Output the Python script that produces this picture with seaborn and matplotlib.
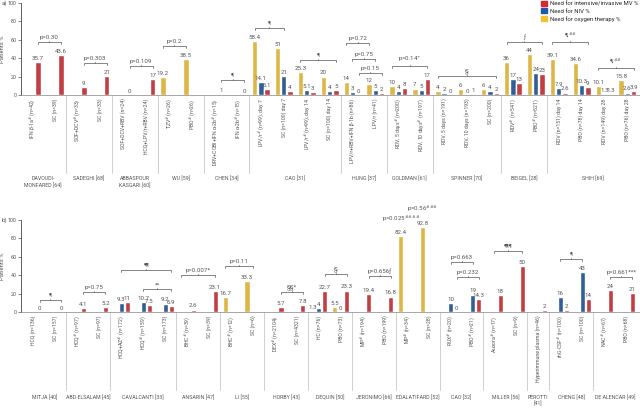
import numpy as np
import pandas as pd
import seaborn as sns
import matplotlib.pyplot as plt
from matplotlib.patches import Patch
from matplotlib.transforms import blended_transform_factory

# order of bars inside every arm (left to right)
measures = ['Oxygen', 'NIV', 'MV']
colors = {'MV': '#d7282f', 'NIV': '#1f5ca8', 'Oxygen': '#f6c22c'}
legend_names = {'MV': 'Need for intensive/invasive MV %',
                'NIV': 'Need for NIV %',
                'Oxygen': 'Need for oxygen therapy %'}

H = r'$^{\#}$'

# ---------------- panel a
a_studies = ['Davoudi-\nMonfared [64]', 'Sadeghi [68]', 'Abbaspour\nKasgari [60]', 'Wu [59]',
             'Chen [34]', 'Cao [31]', 'Hung [37]', 'Goldman [61]', 'Spinner [70]',
             'Beigel [28]', 'Shih [69]']
a_study_arms = [2, 2, 2, 2, 2, 4, 2, 2, 3, 2, 4]
a_arms = ['IFN β-1a' + H + ' (n=42)', 'SC (n=39)',
          'SOF+DCV' + H + ' (n=33)', 'SC (n=33)',
          'SOF+DCV+RBV (n=24)', 'HCQ+LPV/r+RBV (n=24)',
          'TZV' + H + ' (n=26)', 'PBO' + H + ' (n=26)',
          'DRV+COBI+IFN α-2b' + H + ' (n=15)', 'IFN α-2b' + H + ' (n=15)',
          'LPV/r' + H + ' (n=99), day 7', 'SC (n=100) day 7',
          'LPV/r' + H + ' (n=99), day 14', 'SC (n=100) day 14',
          'LPV/r+RBV+IFN β-1b (n=86)', 'LPV/r (n=41)',
          'RDV, 5 days' + H + ' (n=200)', 'RDV, 10 days' + H + ' (n=197)',
          'RDV, 5 days (n=191)', 'RDV, 10 days (n=193)', 'SC (n=200)',
          'RDV' + H + ' (n=541)', 'PBO' + H + ' (n=521)',
          'RDV (n=151) day 14', 'PBO (n=78) day 14',
          'RDV (n=149) day 28', 'PBO (n=76) day 28']
a_oxygen = [None, None, None, None, None, None, 19.2, 38.5, None, None,
            58.4, 51, 25.3, 20, 14, 12, 10, 7, 4, 6, 6, 36, 44, 39.1, 34.6, 10.1, 15.8]
a_niv = [None, None, None, None, None, None, None, None, None, None,
         14.1, 21, 5.1, 4, 3, 5, 4, 5, 2, 0, 4, 17, 24, 7.9, 10.3, 1.3, 2.6]
a_mv = [35.7, 43.6, 9, 21, 0, 17, None, None, 1, 0,
        6.1, 4, 3, 5, 0, 2, 8, 17, 0, 1, 2, 13, 23, 2.6, 9, 1.3, 3.9]

# brackets: (arm, bar, arm, bar, height, text); bar None = arm centre
a_brackets = [(0, 'MV', 1, 'MV', 57, 'p=0.30'),
              (2, 'MV', 3, 'MV', 35, 'p=0.303'),
              (4, 'MV', 5, 'MV', 31.5, 'p=0.109'),
              (6, 'Oxygen', 7, 'Oxygen', 53.5, 'p=0.2'),
              (8, 'MV', 9, 'MV', 16, '¶'),
              (10, 'Oxygen', 11, None, 73, '¶'),
              (12, 'Oxygen', 13, 'MV', 38, '¶'),
              (14, 'Oxygen', 15, 'Oxygen', 56, 'p=0.72'),
              (14, 'NIV', 15, 'NIV', 38.7, 'p=0.75'),
              (14, 'MV', 15, 'MV', 24, 'p=0.15'),
              (16, 'Oxygen', 17, 'MV', 31.7, 'p=0.14$^{+}$'),
              (18, 'Oxygen', 20, 'MV', 20.6, '§'),
              (21, 'Oxygen', 22, 'MV', 57, 'ƒ'),
              (23, 'Oxygen', 24, 'MV', 57, '¶,$^{\\#\\#}$'),
              (25, 'Oxygen', 26, 'MV', 29, '¶,$^{\\#\\#}$')]

# ---------------- panel b
b_studies = ['Mitja [40]', 'Abd-Elsalam [45]', 'Cavalcanti [33]', 'Ansarin [47]', 'Li [55]',
             'Horby [43]', 'Dequin [50]', 'Jeronimo [66]', 'Edalatifard [52]', 'Cao [32]',
             'Miller [56]', 'Perotti\n[41]', 'Cheng [48]', 'de Alencar [49]']
b_study_arms = [2, 2, 3, 2, 2, 2, 2, 2, 2, 2, 2, 1, 2, 2]
b_arms = ['HCQ (n=136)', 'SC (n=157)',
          'HCQ' + H + ' (n=97)', 'SC (n=97)',
          'HCQ+AZ' + H + ' (n=172)', 'HCQ' + H + ' (n=159)', 'SC (n=173)',
          'BHC' + H + ' (n=39)', 'SC (n=39)',
          'BHC' + H + ' (n=12)', 'SC (n=6)',
          'DEX' + H + ' (n=2104)', 'SC (n=4321)',
          'HC (n=76)', 'PBO (n=73)',
          'MP' + H + ' (n=194)', 'PBO (n=199)',
          'MP' + H + ' (n=34)', 'SC (n=28)',
          'RUX' + H + ' (n=20)', 'PBO' + H + ' (n=21)',
          'Auxora' + H + ' (n=17)', 'SC (n=9)',
          'Hyperimmune plasma (n=46)',
          'rhG-CSF' + H + ' (n=100)', 'SC (n=100)',
          'NAC' + H + ' (n=67)', 'PBO (n=68)']
b_oxygen = [None, None, None, None, None, None, None, None, None, 16.7, 33.3, None, None,
            1.3, 5.5, None, None, 82.4, 92.8, None, None, None, None, None, None, None,
            None, None]
b_niv = [None, None, None, None, 9.3, 10.7, 9.2, None, None, None, None, None, None,
         4, 0, None, None, None, None, 10, 19, None, None, None, 16, 43, None, None]
b_mv = [0, 0, 4.1, 5.2, 11, 7.5, 6.9, 2.6, 23.1, None, None, 5.7, 7.8,
        22.7, 23.3, 19.4, 16.8, None, None, 0, 14.3, 18, 50, 2, 2, 14, 24, 21]

b_brackets = [(0, 'MV', 1, 'MV', 13, '¶'),
              (2, 'MV', 3, 'MV', 21.4, 'p=0.75'),
              (4, 'NIV', 6, 'MV', 45.6, '¶¶'),
              (5, 'NIV', 6, 'MV', 24.6, '**'),
              (7, 'Oxygen', 8, 'MV', 40, 'p=0.007*'),
              (9, 'Oxygen', 10, None, 50, 'p=0.11'),
              (11, 'MV', 12, 'MV', 21.4, '§§*'),
              (13, 'MV', 14, 'MV', 41, '§'),
              (15, 'MV', 16, 'MV', 39, 'p=0.656ƒ'),
              (19, 'NIV', 20, 'NIV', 54, 'p=0.663'),
              (19, 'MV', 20, 'MV', 38.4, 'p=0.232'),
              (21, None, 22, 'MV', 66, '¶¶¶'),
              (24, 'NIV', 25, 'NIV', 58, '¶'),
              (26, 'MV', 27, 'MV', 38.4, 'p=0.661***')]
b_notes = [(17, 'Oxygen', 96, 'p=0.025$^{\\#\\#\\#\\#}$'),
           (18, 'Oxygen', 107, 'p=0.56$^{\\#\\#\\#}$')]

BAR_W = 0.82
TXT = '#555555'


def long_table(oxygen, niv, mv):
    rows = []
    for i, vals in enumerate(zip(oxygen, niv, mv)):
        for m, v in zip(measures, vals):
            if v is not None:
                rows.append({'arm': i, 'measure': m, 'value': v})
    return pd.DataFrame(rows)


def slot(arm, bar):
    if bar is None:
        return arm
    return arm + (measures.index(bar) - 1) * BAR_W / 3


def bracket(ax, x1, x2, y, text):
    ax.plot([x1, x1, x2, x2], [y - 2.2, y, y, y - 2.2], color=TXT, lw=0.5, clip_on=False)
    xm = (x1 + x2) / 2
    ax.plot([xm, xm], [y, y + 1.2], color=TXT, lw=0.5, clip_on=False)
    ax.text(xm, y + 2.2, text, ha='center', va='bottom', fontsize=4.4, color=TXT)


def panel(ax, arms, oxygen, niv, mv, studies, study_arms, brackets, xlim, sep_bottom, name_y):
    df = long_table(oxygen, niv, mv)
    sns.barplot(data=df, x='arm', y='value', hue='measure', hue_order=measures,
                order=list(range(len(arms))), palette=colors, width=BAR_W, gap=0.15,
                dodge=True, errorbar=None, legend=False, ax=ax)
    for c in ax.containers:
        ax.bar_label(c, fmt='{:g}', fontsize=4.4, color=TXT, padding=0.8)

    ax.set_ylim(0, 100)
    ax.set_xlim(*xlim)
    ax.set_yticks(range(0, 101, 20))
    ax.set_xticks(range(len(arms)))
    ax.set_xticklabels(arms, rotation=90, va='top', ha='center', fontsize=3.7, color=TXT)
    ax.tick_params(axis='x', length=0, pad=2.5)
    ax.tick_params(axis='y', length=2, width=0.5, pad=1, labelsize=3.9, colors=TXT)
    ax.set_xlabel('')
    ax.set_ylabel('Patients %', fontsize=4.2, color=TXT, labelpad=2)
    sns.despine(ax=ax)
    ax.spines['left'].set_color('#444444')
    ax.spines['left'].set_linewidth(0.6)
    ax.spines['bottom'].set_color('#999999')
    ax.spines['bottom'].set_linewidth(0.6)

    tr = blended_transform_factory(ax.transData, ax.transAxes)
    edges = np.cumsum([0] + study_arms)
    for e in edges[1:-1]:
        ax.plot([e - 0.5, e - 0.5], [0, sep_bottom], transform=tr, color='#c8c8c8',
                lw=0.6, clip_on=False)
    for s, lo, hi in zip(studies, edges[:-1], edges[1:]):
        ax.text((lo + hi - 1) / 2, name_y, s.upper(), transform=tr, ha='center', va='top',
                fontsize=3.8, color=TXT, linespacing=1.3)

    for a1, b1, a2, b2, y, t in brackets:
        bracket(ax, slot(a1, b1), slot(a2, b2), y, t)


sns.set_theme(style='ticks')
plt.rcParams['font.family'] = ['Liberation Sans Narrow', 'Roboto', 'DejaVu Sans']
plt.rcParams['axes.facecolor'] = 'white'

fig = plt.figure(figsize=(6.4, 4.15), dpi=100)
ax_a = fig.add_axes([21 / 640, 1 - 95 / 415, 619 / 640, 92.3 / 415])
ax_b = fig.add_axes([21 / 640, 1 - 312 / 415, 619 / 640, 92 / 415])

panel(ax_a, a_arms, a_oxygen, a_niv, a_mv, a_studies, a_study_arms, a_brackets,
      (-0.47, 26.55), -0.845, -0.88)
panel(ax_b, b_arms, b_oxygen, b_niv, b_mv, b_studies, b_study_arms, b_brackets,
      (-0.57, 27.63), -0.85, -0.9)

for arm, bar, y, t in b_notes:
    ax_b.text(slot(arm, bar), y, t, ha='center', va='bottom', fontsize=4.4, color=TXT,
              clip_on=False)

fig.text(0.002, 1 - 3 / 415, 'a)', fontsize=4.5, color=TXT, va='center')
fig.text(0.002, 1 - 220 / 415, 'b)', fontsize=4.5, color=TXT, va='center')

handles = [Patch(color=colors[m]) for m in ['MV', 'NIV', 'Oxygen']]
fig.legend(handles, [legend_names[m] for m in ['MV', 'NIV', 'Oxygen']],
           loc='upper right', bbox_to_anchor=(0.998, 1.0), frameon=False,
           fontsize=4.3, handlelength=0.9, handleheight=0.9, handletextpad=0.5,
           labelspacing=0.35, borderpad=0.1, borderaxespad=0)

fig.savefig('out.png', dpi=100)
